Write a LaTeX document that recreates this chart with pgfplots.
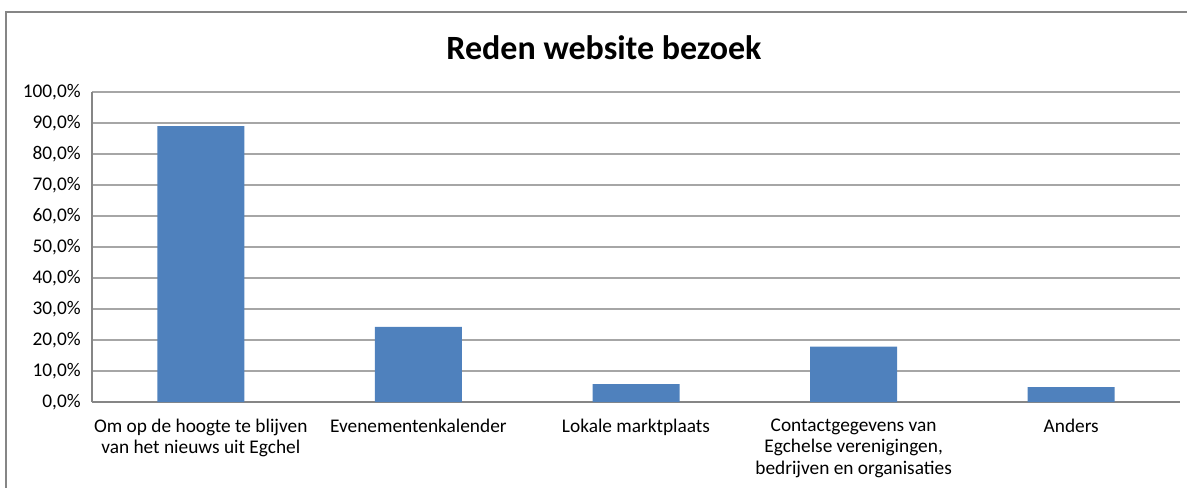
\documentclass[border=0pt]{standalone}
\usepackage{pgfplots}
\pgfplotsset{compat=1.18}
\usepackage{fontspec}
\setmainfont{Carlito}
\definecolor{barblue}{HTML}{4F81BD}
\definecolor{gridgray}{HTML}{A6A6A6}
\definecolor{axisgray}{HTML}{868686}
\begin{document}
\begin{tikzpicture}[x=0.75pt,y=0.75pt]
\path[use as bounding box] (0,0) rectangle (1187,-488);
\draw[axisgray,line width=1.5] (6,-488) -- (6,-12) -- (1187,-12);
\node[font=\fontsize{25.5}{30}\selectfont\bfseries] at (604,-48) {Reden website bezoek};
\begin{axis}[
  at={(69pt,-301.5pt)}, anchor=south west,
  scale only axis, width=816pt, height=232.5pt,
  xmin=-0.5, xmax=4.5, ymin=0, ymax=100,
  ytick={0,10,...,100},
  yticklabels={{0,0\%},{10,0\%},{20,0\%},{30,0\%},{40,0\%},{50,0\%},{60,0\%},{70,0\%},{80,0\%},{90,0\%},{100,0\%}},
  xtick=data,
  xticklabels={{Om op de hoogte te blijven\\van het nieuws uit Egchel},{Evenementenkalender},{Lokale marktplaats},{Contactgegevens van\\Egchelse verenigingen,\\bedrijven en organisaties},{Anders}},
  x tick label style={align=center, font=\fontsize{14.5}{16.2}\selectfont, yshift=-9pt},
  y tick label style={font=\fontsize{14.5}{17.5}\selectfont, xshift=-5pt},
  ymajorgrids, grid style={gridgray, line width=1.2pt},
  axis x line*=bottom, axis y line*=left,
  axis line style={axisgray, line width=1.5pt},
  x axis line style={-}, y axis line style={-},
  tick style={draw=none},
  bar width=65.25pt,
  enlarge x limits=false,
]
\addplot[ybar, fill=barblue, draw=none] coordinates {(0,89.0) (1,24.2) (2,5.8) (3,17.9) (4,4.8)};
\end{axis}
\end{tikzpicture}
\end{document}
